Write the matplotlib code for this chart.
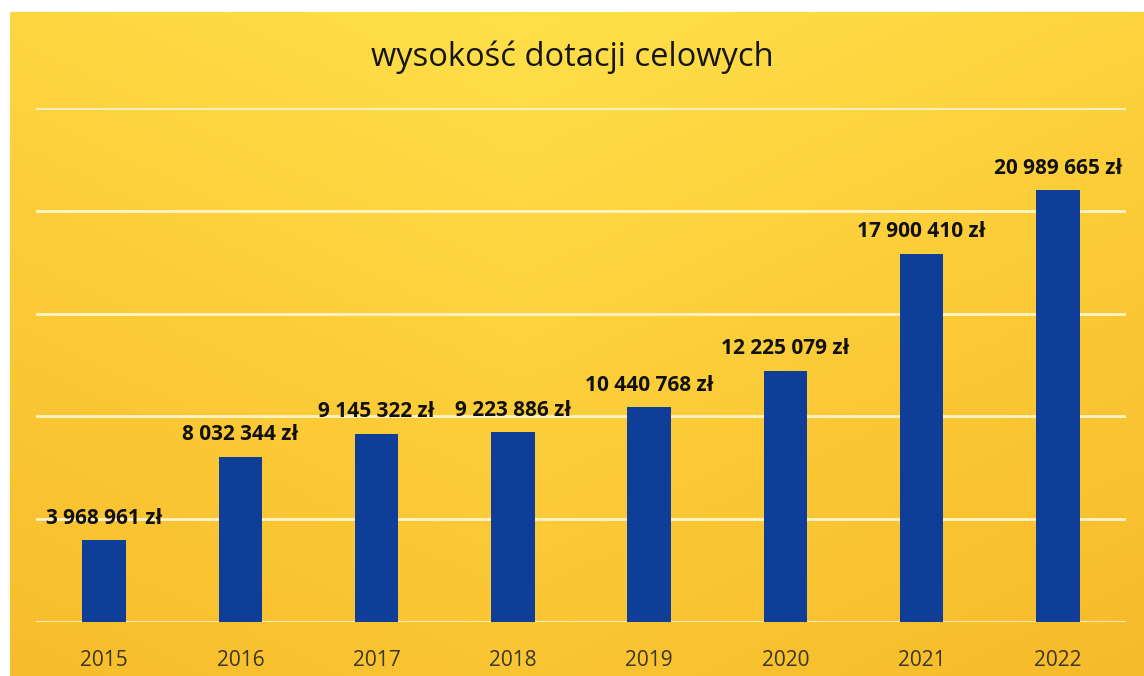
import numpy as np
import matplotlib.pyplot as plt
from matplotlib.colors import LinearSegmentedColormap

# ====================
# DATA
# ====================

years = ['2015', '2016', '2017', '2018', '2019', '2020', '2021', '2022']
amounts = [3968961, 8032344, 9145322, 9223886, 10440768, 12225079, 17900410, 20989665]
title = 'wysokość dotacji celowych'


def fmt_pln(v):
    return f'{v:,}'.replace(',', ' ') + ' zł'


plt.rcParams['font.family'] = ['Open Sans', 'DejaVu Sans']

fig = plt.figure(figsize=(11.44, 6.76), dpi=100)
fig.patch.set_facecolor('white')

# yellow gradient background (scanned slide look)
bg = fig.add_axes([10 / 1144, 0, 1 - 10 / 1144, 1 - 12 / 676])
bg.set_axis_off()
yy, xx = np.mgrid[0:1:200j, 0:1:300j]
shade = 0.6 * yy + 0.4 * np.abs(xx - 0.45) * 1.2
cmap = LinearSegmentedColormap.from_list('yel', ['#FFE049', '#FBC935', '#F6B526'])
bg.imshow(shade, cmap=cmap, aspect='auto', extent=[0, 1, 0, 1], origin='upper',
          vmin=0, vmax=1)

# main chart
ax = fig.add_axes([36 / 1144, 1 - 622 / 676, 1090 / 1144, (622 - 108) / 676])
ax.patch.set_alpha(0)
x = np.arange(len(years))
ax.bar(x, amounts, width=0.32, color='#0E3E97', zorder=3)

ax.set_xlim(-0.5, len(years) - 0.5)
ax.set_ylim(0, 25_000_000)
ax.set_yticks(np.arange(0, 25_000_001, 5_000_000))
ax.yaxis.grid(True, color='#FFF3C8', linewidth=2, zorder=0)
ax.tick_params(axis='y', left=False, labelleft=False)
ax.set_xticks(x)
ax.set_xticklabels(years, fontsize=15, color='#3B3622')
ax.tick_params(axis='x', length=0, pad=20)
for s in ax.spines.values():
    s.set_visible(False)

for xi, v in zip(x, amounts):
    ax.annotate(fmt_pln(v), (xi, v), xytext=(0, 16), textcoords='offset points',
                ha='center', va='center', fontsize=15, fontweight='bold',
                color='#111111')

fig.text(0.5, 1 - 57 / 676, title, ha='center', va='center',
         fontsize=23.5, color='#151515')

fig.savefig('out.png', dpi=100)
